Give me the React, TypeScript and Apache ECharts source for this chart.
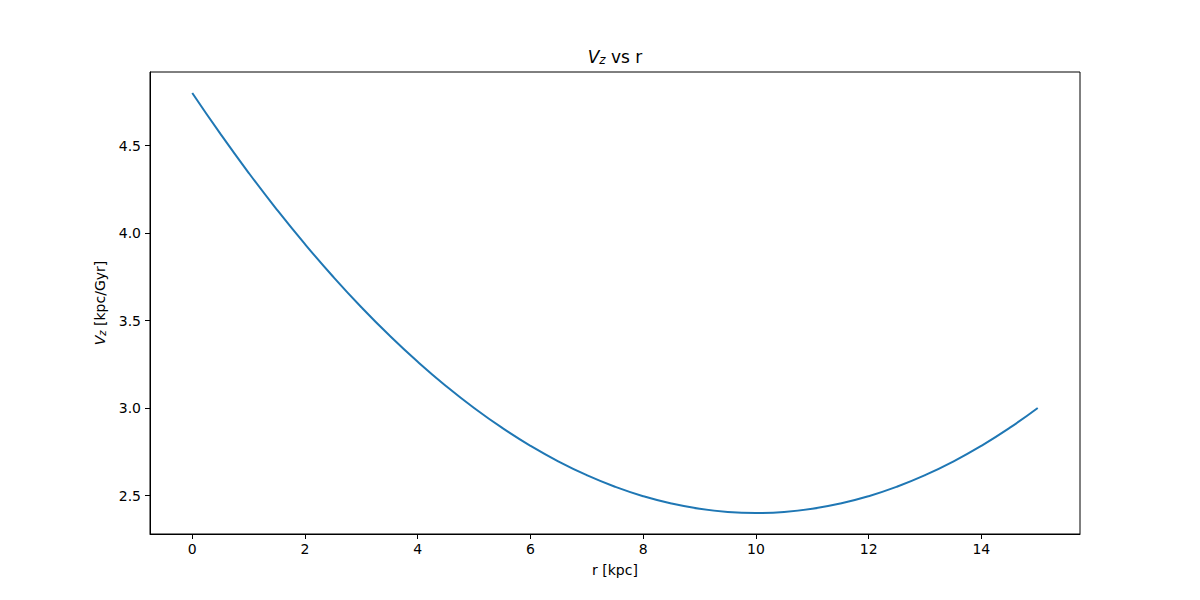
import React, { useEffect, useRef } from "react";
import * as echarts from "echarts";

const rValues = [0, 0.5, 1, 1.5, 2, 2.5, 3, 3.5, 4, 4.5, 5, 5.5, 6, 6.5, 7, 7.5, 8, 8.5, 9, 9.5, 10, 10.5, 11, 11.5, 12, 12.5, 13, 13.5, 14, 14.5, 15];
const vzValues = [4.8, 4.566, 4.344, 4.134, 3.936, 3.75, 3.576, 3.414, 3.264, 3.126, 3.0, 2.886, 2.784, 2.694, 2.616, 2.55, 2.496, 2.454, 2.424, 2.406, 2.4, 2.406, 2.424, 2.454, 2.496, 2.55, 2.616, 2.694, 2.784, 2.886, 3.0];
const xTicks = [0, 2, 4, 6, 8, 10, 12, 14];
const yTicks = [2.5, 3.0, 3.5, 4.0, 4.5];

const FONT = "DejaVu Sans";

export default function App() {
  const ref = useRef<HTMLDivElement>(null);
  useEffect(() => {
    const chart = echarts.init(ref.current!, null, { renderer: "svg" });
    const data = rValues.map((r, i) => [r, vzValues[i]]);
    chart.setOption({
      animation: false,
      backgroundColor: "#ffffff",
      textStyle: { fontFamily: FONT },
      grid: {
        left: 150,
        right: 120,
        top: 72,
        bottom: 66,
        show: true,
        borderColor: "#000",
        borderWidth: 1,
        backgroundColor: "transparent",
      },
      graphic: [
        {
          type: "text",
          x: 615,
          y: 66,
          style: {
            text: "{i|V}{s|z} vs r",
            align: "center",
            verticalAlign: "bottom",
            fill: "#000",
            fontFamily: FONT,
            fontSize: 17,
            rich: {
              i: { fontStyle: "italic", fontSize: 17, fontFamily: FONT },
              s: { fontStyle: "italic", fontSize: 12, fontFamily: FONT, verticalAlign: "bottom", padding: [6, 0, 0, 0] },
            },
          },
        },
      ],
      xAxis: {
        type: "value",
        min: -0.75,
        max: 15.75,
        name: "r [kpc]",
        nameLocation: "middle",
        nameGap: 29,
        nameTextStyle: { fontSize: 14, color: "#000", fontFamily: FONT },
        axisLine: { show: true, onZero: false, lineStyle: { color: "#000", width: 1 } },
        axisTick: { show: true, inside: false, length: 5, lineStyle: { color: "#000" }, customValues: xTicks },
        axisLabel: { show: true, color: "#000", fontSize: 14, margin: 8, fontFamily: FONT, customValues: xTicks },
        splitLine: { show: false },
      },
      yAxis: {
        type: "value",
        min: 2.28,
        max: 4.92,
        name: "{i|V}{s|z} [kpc/Gyr]",
        nameLocation: "middle",
        nameGap: 42,
        nameRotate: 90,
        nameTextStyle: {
          fontSize: 14,
          color: "#000",
          fontFamily: FONT,
          rich: {
            i: { fontStyle: "italic", fontSize: 14, fontFamily: FONT },
            s: { fontStyle: "italic", fontSize: 10, fontFamily: FONT, verticalAlign: "bottom", padding: [5, 0, 0, 0] },
          },
        },
        axisLine: { show: true, onZero: false, lineStyle: { color: "#000", width: 1 } },
        axisTick: { show: true, inside: false, length: 5, lineStyle: { color: "#000" }, customValues: yTicks },
        axisLabel: {
          show: true,
          color: "#000",
          fontSize: 14,
          margin: 9,
          fontFamily: FONT,
          customValues: yTicks,
          formatter: (v: number) => v.toFixed(1),
        },
        splitLine: { show: false },
      },
      series: [
        {
          type: "line",
          data,
          smooth: true,
          showSymbol: false,
          symbol: "none",
          lineStyle: { color: "#1f77b4", width: 2 },
        },
      ],
    });
    return () => chart.dispose();
  }, []);
  return (
    <div
      ref={ref}
      style={{ position: "fixed", left: 0, top: 0, width: 1200, height: 600, background: "#fff" }}
    />
  );
}
